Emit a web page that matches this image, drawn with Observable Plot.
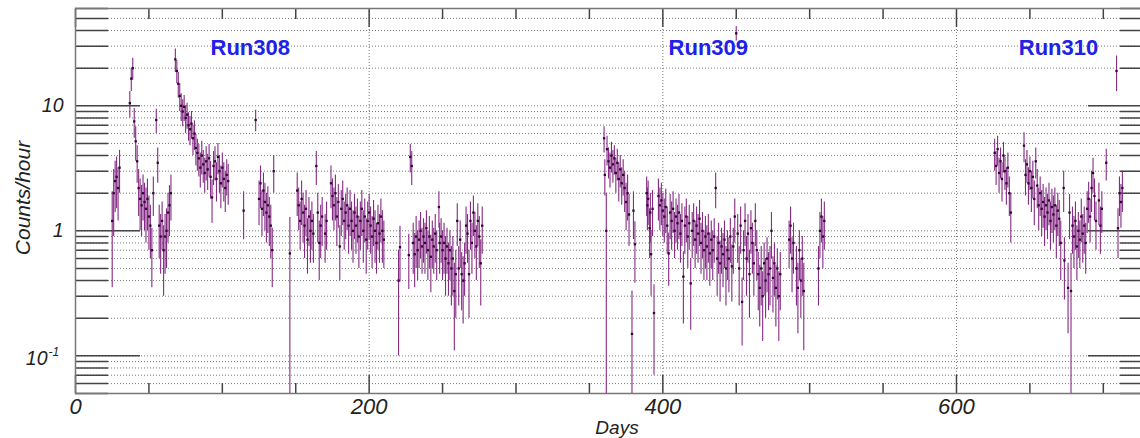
<!DOCTYPE html>
<html><head><meta charset="utf-8">
<script src="https://cdn.jsdelivr.net/npm/d3@7"></script>
<script src="https://cdn.jsdelivr.net/npm/@observablehq/plot@0.6"></script>
<style>
html,body{margin:0;padding:0;background:#fff;overflow:hidden;}
#chart{width:1152px;height:438px;}
</style>
</head><body><div id="chart"></div>
<script>
// ---------- data ----------
const run308Days = [25,26,27,28,29,30,
  37,38,39,40,41,42,43,44,45,46,47,48,49,50,51,52,53,55,56,57,58,59,60,61,62,63,64,65,
  68,69,70,71,72,73,74,75,76,77,78,79,80,81,82,83,84,85,86,87,88,89,90,91,92,93,94,95,96,97,98,99,100,101,102,103,104,
  114.5,122.7,
  125,126,127,128,129,130,131,132,133,134,135,
  146,
  151,152,153,154,155,156,157,158,159,160,161,162,164,165,166,167,168,170,171,
  174,175,176,177,178,179,180,181,182,183,184,185,186,187,188,189,190,191,192,193,194,195,196,197,198,199,200,201,202,203,204,205,206,207,208,209,210,
  220,221,227,228,229,230,231,232,233,234,235,236,237,238,239,240,241,242,243,244,245,246,247.5,248,249,250,251,252,253,254,255,256,257,258,259,260,261,262,263,264,265,266,267,268,269,270,271,272,273,274,275,276,277];
const run308Counts = [1.2,2.0,2.5,2.7,2.2,3.2,
  10.5,16.5,20,7.5,5.2,3.6,2.2,1.8,1.6,2.0,1.7,1.5,1.8,1.3,1.1,0.7,2.0,7.7,3.5,1.1,0.9,1.2,0.7,0.9,1.0,1.4,1.6,2.0,
  23.5,19,15,12,10,9,9.8,8,8.5,7,6.5,7.2,5.5,6,4.6,4.2,3.8,3.2,4.0,3.4,2.9,3.6,3.1,3.8,2.7,1.85,3.3,3.6,2.6,3.9,3.0,2.4,3.2,2.6,2.2,2.8,2.5,
  1.45,7.7,
  1.8,2.4,1.5,2.1,1.7,1.4,1.6,1.3,1.1,0.7,3.0,
  0.66,
  2.1,1.6,1.2,1.8,1.4,1.1,1.5,0.85,1.3,1.0,1.2,0.95,3.3,1.4,0.8,1.1,1.3,0.95,1.2,
  2.4,1.9,1.6,2.0,1.3,1.7,0.75,1.5,1.8,1.2,1.4,1.6,1.1,1.5,1.2,1.0,1.4,1.1,1.3,0.9,1.2,1.5,1.0,1.3,0.85,1.2,1.4,1.1,0.9,1.25,1.0,0.8,1.15,0.95,1.3,1.0,0.85,
  0.40,0.74,0.64,3.9,3.3,0.8,0.65,0.9,0.7,0.85,1.0,0.75,0.9,0.8,1.05,0.7,0.9,0.62,0.85,0.75,0.95,0.7,1.55,0.8,0.9,0.7,0.8,0.6,0.75,0.55,0.7,0.5,0.6,0.33,0.45,1.2,0.5,0.85,0.45,0.4,0.55,1.1,0.95,0.45,1.2,0.8,1.4,1.0,0.75,1.2,0.9,0.55,1.1];
const run308Errors = [0.85,1.1,1.1,1.2,1.0,1.2,
  2.5,3.5,4,2,1.6,1.2,0.9,0.8,0.7,0.8,0.7,0.7,0.8,0.6,0.5,0.35,0.7,1.7,1.1,0.5,0.45,0.5,0.4,0.45,0.5,0.6,0.7,0.8,
  5,4,3.5,3,2.5,2.2,2.3,2,2,1.8,1.7,1.8,1.5,1.6,1.3,1.2,1.1,1.0,1.2,1.0,0.9,1.1,1.0,1.1,0.9,0.7,1.0,1.1,0.9,1.1,1.0,0.9,1.0,0.9,0.8,0.9,0.9,
  0.6,1.5,
  0.7,0.9,0.6,0.8,0.7,0.6,0.65,0.55,0.5,0.35,1.0,
  0.62,
  0.8,0.6,0.5,0.7,0.6,0.5,0.6,0.4,0.55,0.45,0.5,0.4,1.0,0.6,0.4,0.5,0.55,0.4,0.5,
  0.9,0.7,0.6,0.8,0.55,0.65,0.35,0.6,0.7,0.5,0.55,0.6,0.45,0.6,0.5,0.45,0.55,0.45,0.5,0.4,0.5,0.6,0.45,0.5,0.4,0.5,0.55,0.45,0.4,0.5,0.45,0.35,0.45,0.4,0.5,0.45,0.35,
  0.3,0.35,0.3,1.0,1.0,0.35,0.3,0.4,0.3,0.35,0.4,0.3,0.35,0.35,0.4,0.3,0.4,0.3,0.35,0.3,0.4,0.3,0.5,0.35,0.35,0.3,0.35,0.3,0.3,0.25,0.3,0.25,0.3,0.22,0.25,0.45,0.25,0.35,0.22,0.22,0.25,0.45,0.4,0.25,0.5,0.35,0.5,0.4,0.35,0.45,0.4,0.3,0.45];

const run309Days = [360,360.5,361.5,362,363,364,365,366,367,368,369,370,371,372,373,374,375,376,377,379,380,381,
  389,389.5,390,391,391.5,392,393,394,
  397,398,399,400,401,402,403,404,405,406,407,408,409,410,411,412,413,414,415,416,417,418,419,420,421,422,423,424,425,426,427,428,429,430,431,432,433,434,435,436,437,438,439,440,441,442,443,444,445,446,447,448,449,450,451,452,453,454,455,456,457,458,459,460,461,462,463,464,465,466,467,468,469,470,471,472,473,474,475,476,477,478,479,480,
  486,487,488,489,491,492,493,494,495,496,
  506,507,508,509,510];
const run309Counts = [5.5,2.8,1.0,4.5,3.6,3.2,4.0,3.4,3.8,2.9,3.5,2.6,3.1,2.4,2.8,2.2,1.7,2.0,1.35,0.15,1.45,0.78,
  2.0,1.6,1.8,1.05,1.4,0.65,1.5,0.22,
  1.9,1.6,1.75,1.45,1.3,1.55,1.1,0.66,1.4,1.2,1.5,1.0,1.3,1.15,1.4,0.95,1.2,0.43,1.1,1.3,0.9,1.15,0.38,1.0,1.2,0.85,1.1,0.95,1.25,0.8,1.0,0.7,0.9,0.75,0.95,0.66,0.85,0.7,0.9,2.2,0.6,0.8,0.55,0.75,0.65,0.85,0.5,0.7,0.6,0.9,0.52,0.75,1.3,38,0.95,0.5,1.1,0.27,0.7,1.2,0.6,0.95,0.45,1.05,0.8,0.55,1.2,0.7,0.45,0.35,0.5,0.3,0.55,0.4,0.6,0.45,0.5,1.0,0.42,0.55,0.35,0.5,0.3,0.45,
  0.85,1.1,0.6,0.8,0.5,0.35,0.7,0.4,0.6,0.33,
  0.5,1.0,1.3,0.9,1.2];
const run309Errors = [1.3,0.9,1.0,1.2,1.0,1.0,1.1,1.0,1.0,0.9,1.0,0.9,0.9,0.8,0.9,0.8,0.7,0.8,0.6,0.18,0.6,0.4,
  0.7,0.6,0.7,0.45,0.6,0.35,0.6,0.15,
  0.7,0.6,0.65,0.55,0.5,0.6,0.45,0.3,0.55,0.5,0.55,0.4,0.5,0.45,0.55,0.4,0.45,0.25,0.45,0.5,0.4,0.45,0.22,0.4,0.45,0.35,0.45,0.4,0.5,0.35,0.4,0.3,0.4,0.35,0.4,0.3,0.35,0.3,0.35,0.7,0.3,0.35,0.28,0.3,0.3,0.35,0.25,0.3,0.28,0.35,0.25,0.3,0.5,5,0.4,0.25,0.45,0.15,0.3,0.45,0.3,0.4,0.25,0.4,0.35,0.25,0.45,0.3,0.22,0.18,0.25,0.17,0.25,0.2,0.28,0.22,0.25,0.4,0.2,0.25,0.18,0.22,0.17,0.22,
  0.35,0.45,0.28,0.35,0.25,0.2,0.3,0.2,0.3,0.22,
  0.25,0.4,0.5,0.4,0.5];

const run310Days = [626,627,628,629,630,631,632,633,634,635,636,637,
  646,647,648,649,650,651,652,653,654,655,656,657,658,659,660,661,662,663,664,665,666,667,668,669,670,671,
  673,673.5,676,677,678,679,680,681,682,683,684,685,686,687,688,689,690,691,692,693,694,695,697,698,699,702,
  709,710,711,712,713];
const run310Counts = [4.2,3.3,4.5,2.9,3.6,2.6,4.0,3.0,2.4,3.2,2.0,1.4,
  4.8,2.8,3.4,2.4,3.0,2.2,2.7,1.8,3.6,2.3,1.6,2.0,1.5,1.7,1.3,1.6,1.4,1.75,1.2,1.55,1.35,1.6,1.1,1.45,1.25,0.8,
  2.2,0.58,0.35,1.4,0.33,1.1,0.9,1.2,0.75,1.0,0.85,1.3,0.95,1.1,0.8,1.5,1.8,1.3,2.2,2.9,1.9,1.2,1.75,1.1,1.5,3.5,
  19,1.05,2.0,1.7,2.2];
const run310Errors = [1.2,1.0,1.2,0.9,1.0,0.9,1.1,0.9,0.8,1.0,0.7,0.6,
  1.3,0.9,1.0,0.8,0.9,0.8,0.9,0.7,1.0,0.8,0.6,0.7,0.6,0.65,0.55,0.6,0.55,0.65,0.5,0.6,0.55,0.6,0.5,0.55,0.5,0.4,
  0.8,0.3,0.2,0.55,0.33,0.45,0.4,0.5,0.35,0.4,0.35,0.5,0.4,0.45,0.35,0.55,0.65,0.5,0.8,0.9,0.7,0.5,0.65,0.45,0.55,1.0,
  6,0.45,0.7,0.65,0.8];

const runNames = ["Run308", "Run309", "Run310"];
const runLabelDays = [119, 431, 669.5];

const yMajorTicks = [0.1, 1, 10];
const yMajorLabels = ["10", "1", "10"];
const yMinorTicks = [0.05,0.06,0.07,0.08,0.09,0.2,0.3,0.4,0.5,0.6,0.7,0.8,0.9,2,3,4,5,6,7,8,9,20,30,40,50,60];
const xMajorTicks = [0, 200, 400, 600];
const xMinorTicks = [50,100,150,250,300,350,450,500,550,650,700];
const xGridTicks = [200, 400, 600];

// ---------- build ----------
const yMin = 0.05, yMax = 60;
function rows(days, vals, errs) {
  return days.map((d, i) => ({
    day: d, v: vals[i],
    lo: Math.max(vals[i] - errs[i], yMin),
    hi: Math.min(vals[i] + errs[i], yMax)
  }));
}
const points = [
  ...rows(run308Days, run308Counts, run308Errors),
  ...rows(run309Days, run309Counts, run309Errors),
  ...rows(run310Days, run310Counts, run310Errors)
];

const FONT = '"Liberation Sans", Arial, Helvetica, sans-serif';
const tickColor = "#444";
const gridStyle = {stroke: "#6a6a6a", strokeOpacity: 0.9, strokeDasharray: "1,2", strokeWidth: 1};

const chart = Plot.plot({
  width: 1152, height: 438,
  marginLeft: 75, marginRight: 0, marginTop: 8, marginBottom: 45,
  style: {fontFamily: FONT, background: "#fff", color: "#222"},
  x: {domain: [0, 733.5], axis: null},
  y: {type: "log", domain: [yMin, yMax], axis: null},
  marks: [
    Plot.gridY([...yMinorTicks, ...yMajorTicks], gridStyle),
    Plot.gridX(xGridTicks, gridStyle),
    // y ticks (inward, left and right)
    Plot.axisY(yMajorTicks, {anchor: "left", tickSize: -65, fill: "none", stroke: tickColor, strokeWidth: 1.5}),
    Plot.axisY(yMinorTicks, {anchor: "left", tickSize: -33, fill: "none", stroke: tickColor, strokeWidth: 1.5}),
    Plot.axisY(yMajorTicks, {anchor: "right", tickSize: -65, fill: "none", stroke: tickColor, strokeWidth: 1.5}),
    Plot.axisY(yMinorTicks, {anchor: "right", tickSize: -33, fill: "none", stroke: tickColor, strokeWidth: 1.5}),
    // x ticks (inward, bottom and top)
    Plot.axisX(xMajorTicks, {anchor: "bottom", tickSize: -18, fill: "none", stroke: tickColor, strokeWidth: 1.5}),
    Plot.axisX(xMinorTicks, {anchor: "bottom", tickSize: -10, fill: "none", stroke: tickColor, strokeWidth: 1.5}),
    Plot.axisX(xMajorTicks, {anchor: "top", tickSize: -18, fill: "none", stroke: tickColor, strokeWidth: 1.5}),
    Plot.axisX(xMinorTicks, {anchor: "top", tickSize: -10, fill: "none", stroke: tickColor, strokeWidth: 1.5}),
    Plot.frame({stroke: "#777", strokeWidth: 1.5}),
    // tick labels
    Plot.axisX(xMajorTicks, {anchor: "bottom", tickSize: 0, tickPadding: 5, fontSize: 22, fontStyle: "italic",
      label: null, fill: "#222", tickFormat: d => String(d)}),
    Plot.axisY(yMajorTicks.slice(1), {anchor: "left", tickSize: 0, tickPadding: 12, fontSize: 19.5, fontStyle: "italic",
      label: null, fill: "#222", tickFormat: d => yMajorLabels[yMajorTicks.indexOf(d)]}),
    Plot.text([yMajorTicks[0]], {y: d => d, frameAnchor: "left", text: () => yMajorLabels[0], textAnchor: "end",
      dx: -28, dy: 3, fontSize: 19.5, fontStyle: "italic", fill: "#222"}),
    Plot.text([yMajorTicks[0]], {y: d => d, frameAnchor: "left", text: () => "-1", textAnchor: "start",
      dx: -27, dy: -4, fontSize: 12, fontStyle: "italic", fill: "#222"}),
    // axis titles
    Plot.text(["Counts/hour"], {frameAnchor: "left", text: d => d, rotate: -90, textAnchor: "middle", lineAnchor: "middle",
      dx: -52, dy: -3, fontSize: 21, fontStyle: "italic", fill: "#222"}),
    Plot.text(["Days"], {frameAnchor: "bottom", text: d => d, textAnchor: "middle", lineAnchor: "bottom", dy: 40, dx: 3,
      fontSize: 19, fontStyle: "italic", fill: "#222"}),
    // run labels
    Plot.text(runNames, {x: (d, i) => runLabelDays[i], frameAnchor: "top", lineAnchor: "top", text: d => d, dy: 31,
      fontSize: 22, fontWeight: "bold", fill: "#2020e8"}),
    // data
    Plot.ruleX(points, {x: "day", y1: "lo", y2: "hi", stroke: "#852a85", strokeWidth: 1.1, clip: true}),
    Plot.dot(points, {x: "day", y: "v", symbol: "square", r: 1.3, fill: "#2e0531", stroke: null, clip: true})
  ]
});
document.getElementById("chart").appendChild(chart);
</script>
</body></html>
